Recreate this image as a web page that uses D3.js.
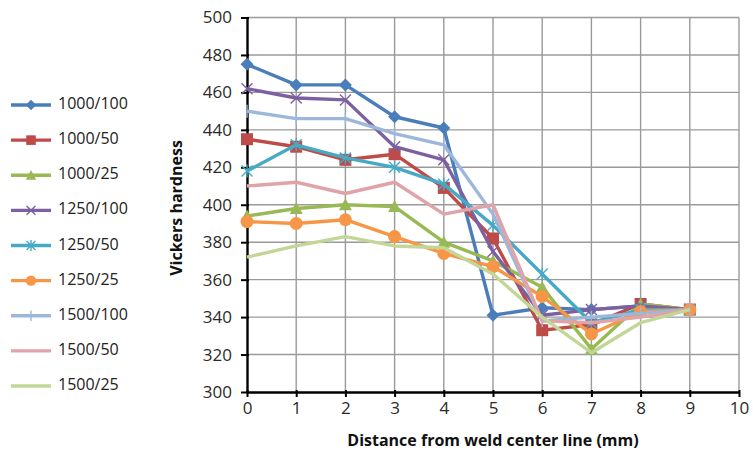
<!DOCTYPE html>
<html>
<head>
<meta charset="utf-8">
<script src="https://cdn.jsdelivr.net/npm/d3@7"></script>
<style>
  html, body { margin: 0; padding: 0; background: #fff; }
  svg { display: block; }
</style>
</head>
<body>
<svg id="chart" width="753" height="457"></svg>
<script>
// ---- data ----
const distances = [0, 1, 2, 3, 4, 5, 6, 7, 8, 9];
const seriesNames = ["1000/100", "1000/50", "1000/25", "1250/100", "1250/50", "1250/25", "1500/100", "1500/50", "1500/25"];
const s1000_100 = [475, 464, 464, 447, 441, 341, 345, 344, 346, 344];
const s1000_50  = [435, 431, 424, 427, 409, 382, 333, 336, 347, 344];
const s1000_25  = [394, 398, 400, 399, 380, 370, 356, 323, 347, 344];
const s1250_100 = [462, 457, 456, 431, 424, 375, 341, 344, 346, 344];
const s1250_50  = [418, 432, 425, 420, 411, 389, 363, 337, 344, 344];
const s1250_25  = [391, 390, 392, 383, 374, 367, 351, 331, 343, 344];
const s1500_100 = [450, 446, 446, 438, 432, 395, 338, 340, 342, 344];
const s1500_50  = [410, 412, 406, 412, 395, 400, 338, 337, 340, 344];
const s1500_25  = [372, 378, 383, 378, 377, 363, 340, 321, 337, 344];
const seriesValues = [s1000_100, s1000_50, s1000_25, s1250_100, s1250_50, s1250_25, s1500_100, s1500_50, s1500_25];
const xTicks = [0, 1, 2, 3, 4, 5, 6, 7, 8, 9, 10];
const yTicks = [300, 320, 340, 360, 380, 400, 420, 440, 460, 480, 500];

// ---- styles ----
const colors = ["#4A7EBB", "#BE4B48", "#98B954", "#7D60A0", "#46AAC5", "#F79646", "#9DB7DB", "#E0A3A8", "#C2D797"];
const markers = ["diamond", "square", "triangle", "x", "star", "circle", "plus", "none", "none"];

const svg = d3.select("#chart");
const pL = 247, pR = 739, pT = 17.5, pB = 392;

const x = d3.scaleLinear().domain([0, 10]).range([pL, pR]);
const y = d3.scaleLinear().domain([300, 500]).range([pB, pT]);

// gridlines
const grid = svg.append("g");
grid.selectAll("line.h").data(yTicks.filter(v => v > 300)).join("line")
  .attr("x1", pL).attr("x2", pR)
  .attr("y1", d => y(d)).attr("y2", d => y(d))
  .attr("stroke", "#9A9A9A").attr("stroke-width", 1.4);
grid.selectAll("line.v").data(xTicks.filter(v => v > 0)).join("line")
  .attr("x1", d => x(d)).attr("x2", d => x(d))
  .attr("y1", pT).attr("y2", pB)
  .attr("stroke", "#9A9A9A").attr("stroke-width", 1.4);

// axes
const fontFam = "'Open Sans', 'Liberation Sans', sans-serif";
const xAxis = svg.append("g").attr("transform", `translate(0,${pB})`)
  .call(d3.axisBottom(x).tickValues(xTicks).tickSize(5).tickSizeOuter(0).tickPadding(5));
const yAxis = svg.append("g").attr("transform", `translate(${pL},0)`)
  .call(d3.axisLeft(y).tickValues(yTicks).tickSize(6).tickSizeOuter(0).tickPadding(9));
[xAxis, yAxis].forEach(a => {
  a.select(".domain").attr("stroke", "#000").attr("stroke-width", 2.4);
  a.selectAll(".tick line").attr("stroke", "#000").attr("stroke-width", 2);
  a.selectAll(".tick text").attr("fill", "#2a2a2a").style("font-family", fontFam).style("font-size", "17px");
});
yAxis.selectAll(".tick line").attr("x2", -6).attr("x1", 2);
xAxis.selectAll(".tick line").attr("y1", -2);

// axis titles
svg.append("text").attr("x", 493).attr("y", 446).attr("text-anchor", "middle")
  .style("font-family", fontFam).style("font-size", "16px").style("font-weight", "bold").attr("fill", "#111")
  .text("Distance from weld center line (mm)");
svg.append("text").attr("transform", "translate(182,208) rotate(-90)").attr("text-anchor", "middle")
  .style("font-family", fontFam).style("font-size", "16px").style("font-weight", "bold").attr("fill", "#111")
  .text("Vickers hardness");

// marker drawing
function drawMarker(g, type, cx, cy, color, k) {
  const s = 6.5 * k;
  if (type === "diamond") {
    g.append("path").attr("d", `M${cx},${cy - s}L${cx + s},${cy}L${cx},${cy + s}L${cx - s},${cy}Z`).attr("fill", color);
  } else if (type === "square") {
    const h = 6 * k;
    g.append("rect").attr("x", cx - h).attr("y", cy - h).attr("width", 2 * h).attr("height", 2 * h).attr("fill", color);
  } else if (type === "triangle") {
    g.append("path").attr("d", `M${cx},${cy - 6.5 * k}L${cx + 6.5 * k},${cy + 5.5 * k}L${cx - 6.5 * k},${cy + 5.5 * k}Z`).attr("fill", color);
  } else if (type === "circle") {
    g.append("circle").attr("cx", cx).attr("cy", cy).attr("r", 6.5 * k).attr("fill", color);
  } else if (type === "x") {
    const h = 5.5 * k;
    g.append("path").attr("d", `M${cx - h},${cy - h}L${cx + h},${cy + h}M${cx + h},${cy - h}L${cx - h},${cy + h}`)
      .attr("stroke", color).attr("stroke-width", 1.4);
  } else if (type === "star") {
    const h = 5.5 * k;
    g.append("path").attr("d", `M${cx - h},${cy - h}L${cx + h},${cy + h}M${cx + h},${cy - h}L${cx - h},${cy + h}M${cx},${cy - h - 1}L${cx},${cy + h + 1}`)
      .attr("stroke", color).attr("stroke-width", 1.4);
  } else if (type === "plus") {
    g.append("path").attr("d", `M${cx},${cy - 6.5 * k}L${cx},${cy + 6.5 * k}`)
      .attr("stroke", color).attr("stroke-width", 1.4);
  }
}

// series
const line = d3.line().x((d, i) => x(distances[i])).y(d => y(d));
seriesValues.forEach((vals, si) => {
  const g = svg.append("g");
  g.append("path").datum(vals).attr("d", line)
    .attr("fill", "none").attr("stroke", colors[si]).attr("stroke-width", 3.4).attr("stroke-linejoin", "round");
  vals.forEach((v, i) => drawMarker(g, markers[si], x(distances[i]), y(v), colors[si], 1));
});

// legend
const legend = svg.append("g");
const legendY = d3.scalePoint().domain(seriesNames).range([105, 386]);
seriesNames.forEach((name, si) => {
  const ly = legendY(name);
  legend.append("line").attr("x1", 11).attr("x2", 51).attr("y1", ly).attr("y2", ly)
    .attr("stroke", colors[si]).attr("stroke-width", 3.4);
  drawMarker(legend, markers[si], 31, ly, colors[si], 0.8);
  legend.append("text").attr("x", 58).attr("y", ly + 4)
    .style("font-family", fontFam).style("font-size", "16px").attr("fill", "#222").text(name);
});
</script>
</body>
</html>
